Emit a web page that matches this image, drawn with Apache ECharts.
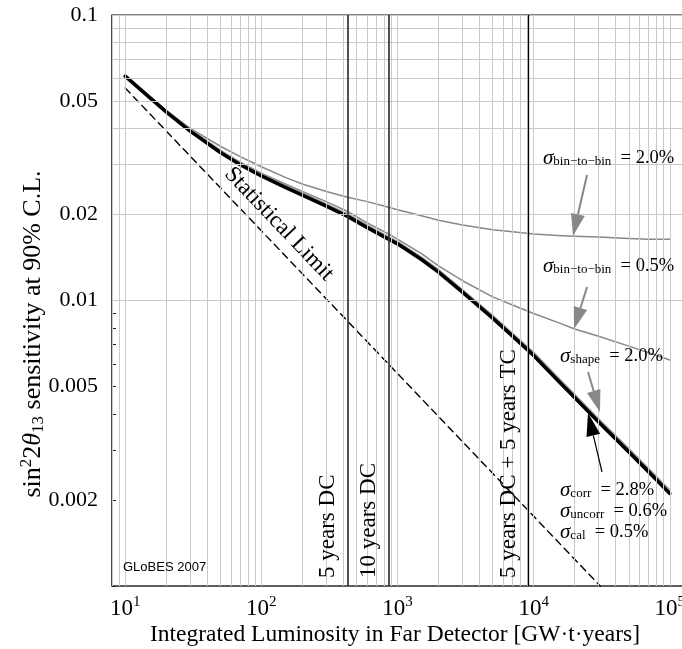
<!DOCTYPE html>
<html><head><meta charset="utf-8">
<script src="https://cdn.jsdelivr.net/npm/echarts@6/dist/echarts.min.js"></script>
<style>html,body{margin:0;padding:0;background:#fff}#c{width:682px;height:649px}</style>
</head><body><div id="c"></div>
<script>
// ---------- data ----------
const lumi = [10, 15, 20, 30, 50, 70, 100, 150, 200, 300, 430, 600, 860, 1000, 1500, 2000, 3000, 5000, 7000, 10000, 15000, 20000, 30000, 50000, 70000, 100000];
// sigma_corr = 2.8%, sigma_uncorr = 0.6%, sigma_cal = 0.5% (thick black)
const sysCombined = [0.0611, 0.0516, 0.0458, 0.0392, 0.0330, 0.0299, 0.0273, 0.0249, 0.0234, 0.0214, 0.0197, 0.0180, 0.0164, 0.0158, 0.01392, 0.01257, 0.01069, 0.00867, 0.0075, 0.00642, 0.00526, 0.00457, 0.00375, 0.00295, 0.00251, 0.00211];
// sigma_shape = 2.0%
const shape20 = [0.0613, 0.0521, 0.0464, 0.0398, 0.0336, 0.0304, 0.0278, 0.0254, 0.0239, 0.0218, 0.0201, 0.0184, 0.0167, 0.0161, 0.0142, 0.01284, 0.01093, 0.00888, 0.00768, 0.00658, 0.00539, 0.00469, 0.00385, 0.00303, 0.00258, 0.00217];
// sigma_bin-to-bin = 0.5%
const bin05 = [0.0612, 0.0518, 0.0461, 0.0396, 0.0335, 0.0305, 0.0279, 0.0256, 0.0241, 0.0222, 0.0205, 0.0187, 0.0171, 0.0164, 0.0146, 0.01322, 0.01173, 0.0103, 0.00964, 0.0090, 0.00838, 0.00795, 0.00749, 0.00692, 0.00656, 0.00619];
// sigma_bin-to-bin = 2.0%
const bin20 = [0.0613, 0.0521, 0.0463, 0.0401, 0.0347, 0.0319, 0.0294, 0.0270, 0.0256, 0.0241, 0.0230, 0.0222, 0.0212, 0.0208, 0.0198, 0.0191, 0.0184, 0.0177, 0.0174, 0.0171, 0.0169, 0.0168, 0.0167, 0.0165, 0.0164, 0.0164];
// statistical limit (dashed)
const statLumi = [10, 100, 1000, 10000, 31000];
const statLimit = [0.0555, 0.01755, 0.00555, 0.001755, 0.000997];
// exposure markers
const markerLumi = [430, 860, 9160];
const markerLabels = ['5 years DC', '10 years DC', '5 years DC + 5 years TC'];
// ticks
const xTicks = [10, 100, 1000, 10000, 100000];
const xTickExp = ['1', '2', '3', '4', '5'];
const yTicks = [0.1, 0.05, 0.02, 0.01, 0.005, 0.002];
const yTickLabels = ['0.1', '0.05', '0.02', '0.01', '0.005', '0.002'];

// ---------- chart ----------
const serif = "'Liberation Serif', 'Times New Roman', serif";
const chart = echarts.init(document.getElementById('c'));
const pairs = (xs, ys) => xs.map((x, i) => [x, ys[i]]);

const xGrid = [];
for (let e = 0; e <= 5; e++) for (let m = 1; m <= 9; m++) {
  const v = +(m * Math.pow(10, e)).toPrecision(6);
  if (v >= 8 && v <= 125000) xGrid.push(v);
}
const yGrid = [];
for (let e = -3; e <= -1; e++) for (let m = 1; m <= 9; m++) {
  const v = +(m * Math.pow(10, e)).toPrecision(6);
  if (v >= 0.001 && v <= 0.1) yGrid.push(v);
}
const near = (a, b) => Math.abs(a - b) / b < 1e-6;
const curve = (name, xs, ys, color, width, z, type) => ({
  name: name, type: 'line', z: z, data: pairs(xs, ys), showSymbol: false, symbol: 'none',
  smooth: false, lineStyle: { color: color, width: width, type: type || 'solid', join: 'round', cap: 'round' }
});

const option = {
  animation: false,
  grid: { left: 112, top: 15, width: 571, height: 571, show: true, borderColor: '#000', borderWidth: 1, backgroundColor: '#fff', outerBoundsMode: 'none' },
  xAxis: {
    type: 'log', logBase: 10, min: 8, max: 125000,
    axisLine: { show: true, onZero: false, lineStyle: { color: '#555', width: 1.5 } },
    axisTick: { show: true, inside: true, length: 5, customValues: xTicks, lineStyle: { color: '#222', width: 1 } },
    axisLabel: {
      customValues: xTicks, margin: 9,
      formatter: v => { const i = xTicks.findIndex(t => near(v, t)); return '{b|10}{s|' + (i >= 0 ? xTickExp[i] : '') + '}'; },
      rich: { b: { fontFamily: serif, fontSize: 23, color: '#000' }, s: { fontFamily: serif, fontSize: 15, color: '#000', padding: [0, 0, 12, 0] } }
    },
    splitLine: { show: false }
  },
  yAxis: {
    type: 'log', logBase: 10, min: 0.001, max: 0.1,
    axisLine: { show: true, onZero: false, lineStyle: { color: '#333', width: 1.5 } },
    axisTick: { show: true, inside: true, length: 4, customValues: yGrid, lineStyle: { color: '#222', width: 1 } },
    axisLabel: {
      customValues: yTicks, margin: 14,
      formatter: v => { const i = yTicks.findIndex(t => near(v, t)); return i >= 0 ? yTickLabels[i] : ''; },
      fontFamily: serif, fontSize: 22, color: '#000'
    },
    splitLine: { show: false }
  },
  series: [
    { type: 'line', z: 1, data: [[10, 0.01]], symbol: 'none', lineStyle: { opacity: 0 }, silent: true,
      markLine: { silent: true, symbol: ['none', 'none'], label: { show: false }, animation: false,
        lineStyle: { color: '#c9c9c9', width: 1, type: 'solid' },
        data: xGrid.map(v => ({ xAxis: v })).concat(yGrid.map(v => ({ yAxis: v }))) } },
    { type: 'line', z: 2, data: [[10, 0.01]], symbol: 'none', lineStyle: { opacity: 0 }, silent: true,
      markLine: { silent: true, symbol: ['none', 'none'], label: { show: false }, animation: false,
        data: markerLumi.map((v, i) => ({ xAxis: v, lineStyle: { color: i < 2 ? '#333' : '#000', width: i < 2 ? 1.7 : 1.3, type: 'solid' } })) } },
    curve('bin20', lumi, bin20, '#888', 1.5, 3),
    curve('bin05', lumi, bin05, '#888', 1.5, 3),
    curve('shape20', lumi, shape20, '#999', 1.5, 3),
    curve('stat', statLumi, statLimit, '#000', 1.4, 3, [7, 5]),
    curve('combined', lumi, sysCombined, '#000', 3.6, 4)
  ]
};
chart.setOption(option);

// ---------- annotations ----------
function arrow(x1, y1, x2, y2, color, w, hl, hw) {
  const dx = x2 - x1, dy = y2 - y1, L = Math.hypot(dx, dy);
  const ux = dx / L, uy = dy / L, nx = -uy, ny = ux;
  const bx = x2 - ux * hl, by = y2 - uy * hl;
  return [
    { type: 'line', z: 50, shape: { x1: x1, y1: y1, x2: bx, y2: by }, style: { stroke: color, lineWidth: w } },
    { type: 'polygon', z: 50, shape: { points: [[x2, y2], [bx + nx * hw, by + ny * hw], [bx - nx * hw, by - ny * hw]] }, style: { fill: color } }
  ];
}
const sigRich = {
  g: { fontFamily: serif, fontStyle: 'italic', fontSize: 21, color: '#000' },
  sub: { fontFamily: serif, fontSize: 13, color: '#000', padding: [8, 0, 0, 0] },
  n: { fontFamily: serif, fontSize: 18.5, color: '#000' }
};
function sigText(x, y, sub, rest) {
  return { type: 'text', z: 60, x: x, y: y, style: { text: '{g|σ}{sub|' + sub + '}{n|' + rest + '}', rich: sigRich, align: 'left', verticalAlign: 'middle' } };
}
const g = [];
g.push(sigText(543, 158, 'bin−to−bin', '  = 2.0%'));
g.push(sigText(543, 266, 'bin−to−bin', '  = 0.5%'));
g.push(sigText(560, 356, 'shape', '  = 2.0%'));
g.push(sigText(560, 490, 'corr', '  = 2.8%'));
g.push(sigText(560, 511, 'uncorr', '  = 0.6%'));
g.push(sigText(560, 532, 'cal', '  = 0.5%'));
g.push(...arrow(587, 175, 573, 236, '#888', 2, 22, 7));
g.push(...arrow(587, 287, 574, 329, '#888', 2, 22, 7));
g.push(...arrow(588, 372, 600, 412, '#888', 2, 22, 7));
g.push(...arrow(602, 472, 588, 413, '#000', 1.2, 23, 7));
markerLumi.forEach((v, i) => {
  const px = chart.convertToPixel({ xAxisIndex: 0 }, v);
  g.push({ type: 'text', z: 60, x: px - 20, y: 578, rotation: Math.PI / 2,
    style: { text: markerLabels[i], fontFamily: serif, fontSize: 23, fill: '#000', align: 'left', verticalAlign: 'middle' } });
});
g.push({ type: 'text', z: 60, x: 279, y: 224, rotation: -46.4 * Math.PI / 180,
  style: { text: 'Statistical Limit', fontFamily: serif, fontSize: 23, fill: '#000', align: 'center', verticalAlign: 'middle' } });
g.push({ type: 'text', z: 60, x: 123, y: 567,
  style: { text: 'GLoBES 2007', fontFamily: "'Liberation Sans', Arial, sans-serif", fontSize: 13, fill: '#000', align: 'left', verticalAlign: 'middle' } });
g.push({ type: 'text', z: 60, x: 395, y: 635,
  style: { text: 'Integrated Luminosity in Far Detector [GW·t·years]', fontFamily: serif, fontSize: 23.5, fill: '#000', align: 'center', verticalAlign: 'middle' } });
g.push({ type: 'text', z: 60, x: 33, y: 334, rotation: Math.PI / 2,
  style: { text: '{n|sin}{sup|2}{n|2}{it|θ}{sub|13}{n| sensitivity at 90% C.L.}', align: 'center', verticalAlign: 'middle',
    rich: {
      n: { fontFamily: serif, fontSize: 26, color: '#000' },
      it: { fontFamily: serif, fontStyle: 'italic', fontSize: 26, color: '#000' },
      sup: { fontFamily: serif, fontSize: 17, color: '#000', padding: [0, 0, 13, 0] },
      sub: { fontFamily: serif, fontSize: 17, color: '#000', padding: [11, 0, 0, 0] }
    } } });
chart.setOption({ graphic: g });
</script>
</body></html>
